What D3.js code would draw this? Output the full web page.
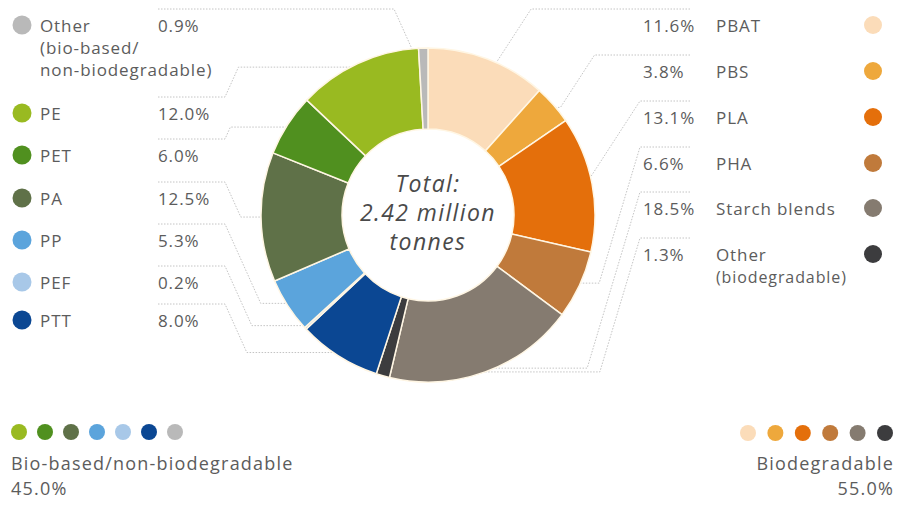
<!DOCTYPE html>
<html>
<head>
<meta charset="utf-8">
<script src="https://cdn.jsdelivr.net/npm/d3@7/dist/d3.min.js"></script>
<style>
  body { margin: 0; background: #fff; }
  svg { display: block; }
  text { font-family: "Open Sans", sans-serif; fill: #5c5c5c; }
</style>
</head>
<body>
<svg id="chart" width="897" height="509"></svg>
<script>
// slices in clockwise order, starting at 12 o'clock
var names   = ['PBAT', 'PBS', 'PLA', 'PHA', 'Starch blends', 'Other (biodegradable)',
               'PTT', 'PEF', 'PP', 'PA', 'PET', 'PE', 'Other (bio-based/non-biodegradable)'];
var shares  = [11.6, 3.8, 13.1, 6.6, 18.5, 1.3, 8.0, 0.2, 5.3, 12.5, 6.0, 12.0, 0.9];
var colours = ['#fbdcb9', '#eea83c', '#e46f0b', '#c07a3b', '#857b70', '#3c3c3e',
               '#0b4793', '#a8c8e8', '#5ba4dc', '#5f7148', '#50901f', '#99ba21', '#b9b9b9'];

// legend rows (label lines per slice)
var leftOrder  = [12, 11, 10, 9, 8, 7, 6];
var leftLines  = [['Other', '(bio-based/', 'non-biodegradable)'], ['PE'], ['PET'], ['PA'], ['PP'], ['PEF'], ['PTT']];
var leftY      = [32, 120, 162, 205, 247, 289, 327];
var rightOrder = [0, 1, 2, 3, 4, 5];
var rightLines = [['PBAT'], ['PBS'], ['PLA'], ['PHA'], ['Starch blends'], ['Other', '(biodegradable)']];
var rightY     = [32, 78, 124, 170, 215, 261];

var groupLabels = ['Bio-based/non-biodegradable', 'Biodegradable'];
var groupValues = [45.0, 55.0];
var baseDots = [11, 10, 9, 8, 7, 6, 12];
var bioDots  = [0, 1, 2, 3, 4, 5];

var svg = d3.select('#chart');
var cx = 428, cy = 215, rOut = 167, rIn = 86;
var fmt = d3.format('.1f');

var pie = d3.pie().sort(null).value(function(d) { return d; });
var arcs = pie(shares);
var arc = d3.arc().innerRadius(rIn).outerRadius(rOut);

function outerPoint(i, r) {
  var a = (arcs[i].startAngle + arcs[i].endAngle) / 2;
  return [cx + Math.sin(a) * r, cy - Math.cos(a) * r];
}

// leader lines, drawn under the ring
var leaders = svg.append('g')
  .attr('fill', 'none').attr('stroke', '#c4c4c4')
  .attr('stroke-width', 1).attr('stroke-dasharray', '1.5,1.5');
var line = d3.line();

leftOrder.forEach(function(idx, k) {
  var y = leftY[k] - 23;
  var p = outerPoint(idx, rOut - 4);
  var dy = Math.abs(p[1] - y);
  var a = k === 0 ? p[0] - dy * 0.45 - 10 : 225;
  var b = a + dy * 0.45;
  leaders.append('path').attr('d', line([[158, y], [a, y], [b, p[1]], [p[0], p[1]]]));
});
rightOrder.forEach(function(idx, k) {
  var y = rightY[k] - 23;
  var p = outerPoint(idx, rOut - 4);
  var dy = Math.abs(p[1] - y);
  var s = dy < 100 ? 0.65 : 0.3;
  var a = k < 2 ? p[0] + dy * s + 10 : 640;
  var b = a - dy * s;
  leaders.append('path').attr('d', line([[690, y], [a, y], [b, p[1]], [p[0], p[1]]]));
});

var g = svg.append('g').attr('transform', 'translate(' + cx + ',' + cy + ')');

g.selectAll('path.slice')
  .data(arcs)
  .enter().append('path')
  .attr('class', 'slice')
  .attr('d', arc)
  .attr('fill', function(d, i) { return colours[i]; })
  .attr('stroke', '#fff6e4')
  .attr('stroke-width', 1.5);

// centre label
var centre = g.append('text').attr('text-anchor', 'middle')
  .style('font-style', 'italic').style('font-size', '23px')
  .style('letter-spacing', '1.4px').style('fill', '#4a4a4a');
['Total:', '2.42 million', 'tonnes'].forEach(function(t, i) {
  centre.append('tspan').attr('x', 0).attr('y', -23 + i * 29).text(t);
});

function label(x, y, t, size, anchor) {
  return svg.append('text').attr('x', x).attr('y', y)
    .attr('text-anchor', anchor || 'start')
    .style('font-size', size + 'px').style('letter-spacing', '0.9px').text(t);
}

// left legend
leftOrder.forEach(function(idx, k) {
  var y = leftY[k];
  svg.append('circle').attr('cx', 22).attr('cy', y - 7).attr('r', 9.5).attr('fill', colours[idx]);
  leftLines[k].forEach(function(l, j) { label(40, y + j * 22, l, 17); });
  label(158, y, fmt(shares[idx]) + '%', 17);
});

// right legend
rightOrder.forEach(function(idx, k) {
  var y = rightY[k];
  svg.append('circle').attr('cx', 873).attr('cy', y - 7).attr('r', 9).attr('fill', colours[idx]);
  label(643, y, fmt(shares[idx]) + '%', 17);
  rightLines[k].forEach(function(l, j) { label(716, y + j * 22, l, j ? 16 : 17); });
});

// group summaries at the bottom
baseDots.forEach(function(idx, k) {
  svg.append('circle').attr('cx', 19 + k * 26).attr('cy', 432).attr('r', 8).attr('fill', colours[idx]);
});
bioDots.forEach(function(idx, k) {
  svg.append('circle').attr('cx', 748 + k * 27.4).attr('cy', 433).attr('r', 8).attr('fill', colours[idx]);
});
label(11, 470, groupLabels[0], 18).style('letter-spacing', '1.2px');
label(11, 495, fmt(groupValues[0]) + '%', 18).style('letter-spacing', '1.2px');
label(894, 470, groupLabels[1], 18, 'end').style('letter-spacing', '1.2px');
label(894, 495, fmt(groupValues[1]) + '%', 18, 'end').style('letter-spacing', '1.2px');
</script>
</body>
</html>
